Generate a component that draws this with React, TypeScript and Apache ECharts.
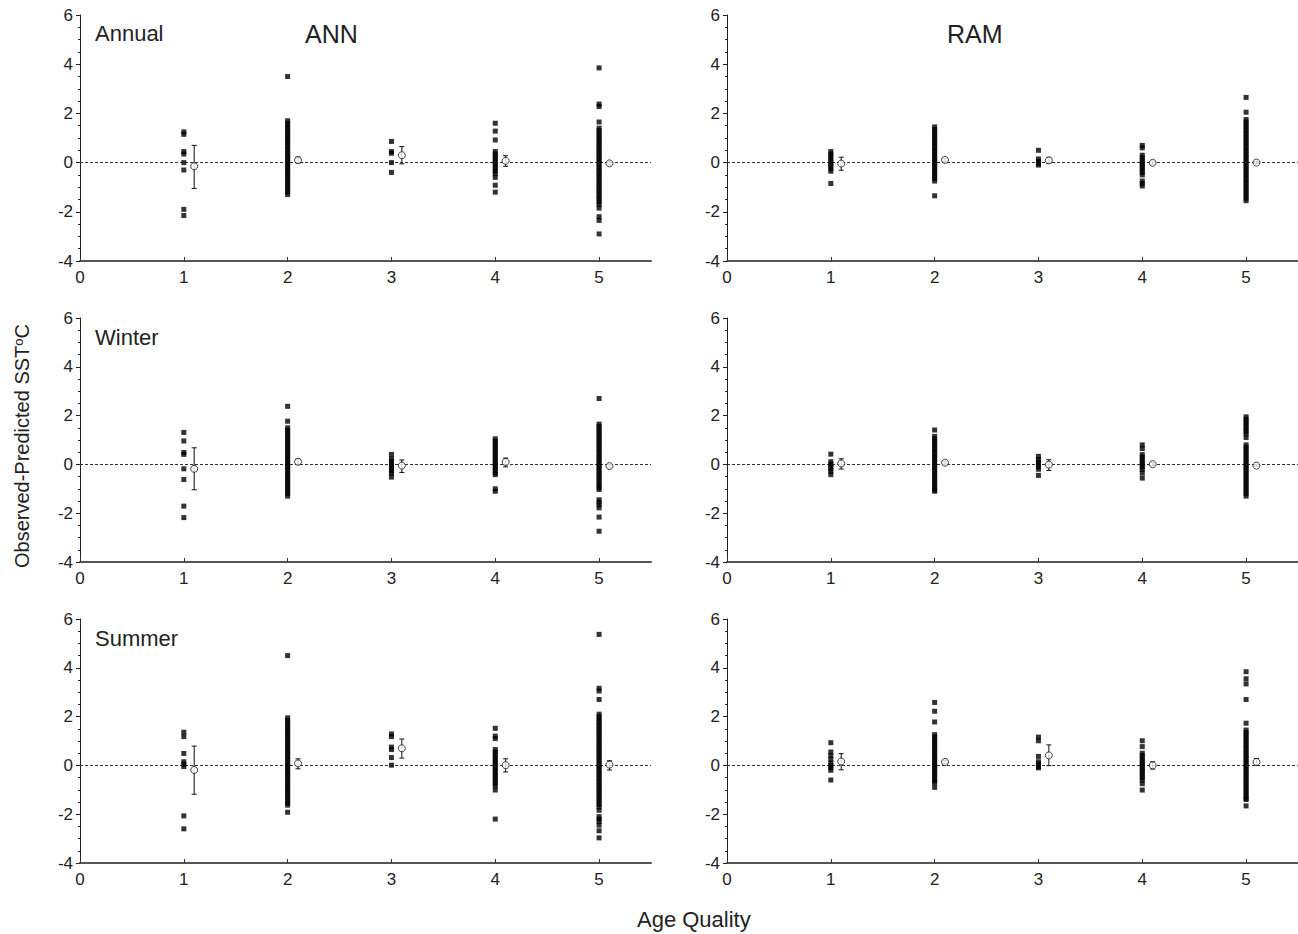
import React, { useEffect, useRef } from "react";
import * as echarts from "echarts";

// ---------- DATA ----------
const quality = [1, 2, 3, 4, 5];
const xTicks = [0, 1, 2, 3, 4, 5];
const yTicks = [-4, -2, 0, 2, 4, 6];

// Annual - ANN
const annualAnnPts = [
  [1.25, 1.15, 0.45, 0.35, 0.0, -0.3, -1.9, -2.15],
  [3.5, 1.7, 1.6, 1.5, 1.4, 1.3, 1.2, 1.1, 1.0, 0.9, 0.8, 0.7, 0.6, 0.5, 0.4, 0.3, 0.2, 0.1, 0.0, -0.1, -0.2, -0.3, -0.4, -0.5, -0.6, -0.7, -0.8, -0.9, -1.0, -1.1, -1.2, -1.3],
  [0.86, 0.45, 0.38, 0.0, -0.4],
  [1.6, 1.28, 0.92, 0.45, 0.35, 0.25, 0.15, 0.05, -0.05, -0.15, -0.25, -0.35, -0.45, -0.6, -0.92, -1.2],
  [3.85, 2.38, 2.28, 1.65, 1.4, 1.3, 1.2, 1.1, 1.0, 0.9, 0.8, 0.7, 0.6, 0.5, 0.4, 0.3, 0.2, 0.1, 0.0, -0.1, -0.2, -0.3, -0.4, -0.5, -0.6, -0.7, -0.8, -0.9, -1.0, -1.1, -1.2, -1.3, -1.4, -1.5, -1.6, -1.7, -1.85, -2.2, -2.35, -2.9],
];
const annualAnnMean = [-0.15, 0.1, 0.3, 0.07, -0.03];
const annualAnnLo = [-1.05, -0.02, -0.05, -0.15, -0.11];
const annualAnnHi = [0.7, 0.22, 0.65, 0.28, 0.05];

// Annual - RAM
const annualRamPts = [
  [0.45, 0.35, 0.25, 0.15, 0.05, -0.05, -0.15, -0.25, -0.35, -0.85],
  [1.45, 1.35, 1.25, 1.15, 1.05, 0.95, 0.85, 0.75, 0.65, 0.55, 0.45, 0.35, 0.25, 0.15, 0.05, -0.05, -0.15, -0.25, -0.35, -0.45, -0.55, -0.65, -0.75, -1.35],
  [0.5, 0.15, 0.05, -0.05, -0.1],
  [0.7, 0.6, 0.3, 0.2, 0.1, 0.0, -0.1, -0.2, -0.3, -0.4, -0.5, -0.75, -0.85, -0.95],
  [2.65, 2.05, 1.75, 1.65, 1.55, 1.45, 1.35, 1.25, 1.15, 1.05, 0.95, 0.85, 0.75, 0.65, 0.55, 0.45, 0.35, 0.25, 0.15, 0.05, -0.05, -0.15, -0.25, -0.35, -0.45, -0.55, -0.65, -0.75, -0.85, -0.95, -1.05, -1.15, -1.25, -1.35, -1.45, -1.55],
];
const annualRamMean = [-0.04, 0.11, 0.09, -0.01, 0.0];
const annualRamLo = [-0.31, 0.05, -0.03, -0.08, -0.04];
const annualRamHi = [0.22, 0.17, 0.21, 0.06, 0.04];

// Winter - ANN
const winterAnnPts = [
  [1.31, 0.96, 0.49, 0.41, -0.18, -0.62, -1.71, -2.18],
  [2.38, 1.77, 1.5, 1.4, 1.3, 1.2, 1.1, 1.0, 0.9, 0.8, 0.7, 0.6, 0.5, 0.4, 0.3, 0.2, 0.1, 0.0, -0.1, -0.2, -0.3, -0.4, -0.5, -0.6, -0.7, -0.8, -0.9, -1.0, -1.1, -1.2, -1.3],
  [0.41, 0.23, 0.13, 0.03, -0.07, -0.17, -0.27, -0.37, -0.52],
  [1.05, 0.95, 0.85, 0.75, 0.65, 0.55, 0.45, 0.35, 0.25, 0.15, 0.05, -0.05, -0.15, -0.25, -0.35, -0.42, -1.0, -1.1],
  [2.7, 1.65, 1.55, 1.45, 1.35, 1.25, 1.15, 1.05, 0.95, 0.85, 0.75, 0.65, 0.55, 0.45, 0.35, 0.25, 0.15, 0.05, -0.05, -0.15, -0.25, -0.35, -0.45, -0.55, -0.65, -0.75, -0.85, -0.95, -1.03, -1.45, -1.55, -1.65, -1.78, -2.16, -2.74],
];
const winterAnnMean = [-0.18, 0.11, -0.05, 0.1, -0.07];
const winterAnnLo = [-1.04, 0.0, -0.33, -0.1, -0.15];
const winterAnnHi = [0.68, 0.22, 0.18, 0.26, 0.01];

// Winter - RAM
const winterRamPts = [
  [0.42, 0.11, 0.01, -0.09, -0.19, -0.29, -0.42],
  [1.41, 1.15, 1.05, 0.95, 0.85, 0.75, 0.65, 0.55, 0.45, 0.35, 0.25, 0.15, 0.05, -0.05, -0.15, -0.25, -0.35, -0.45, -0.55, -0.65, -0.75, -0.85, -0.95, -1.05, -1.1],
  [0.33, 0.2, 0.1, 0.0, -0.1, -0.2, -0.45],
  [0.8, 0.65, 0.4, 0.3, 0.2, 0.1, 0.0, -0.1, -0.2, -0.35, -0.56],
  [1.95, 1.85, 1.75, 1.65, 1.55, 1.45, 1.35, 1.25, 1.1, 0.8, 0.7, 0.6, 0.5, 0.4, 0.3, 0.2, 0.1, 0.0, -0.1, -0.2, -0.3, -0.4, -0.5, -0.6, -0.7, -0.8, -0.9, -1.0, -1.1, -1.2, -1.3],
];
const winterRamMean = [0.04, 0.07, -0.01, 0.01, -0.05];
const winterRamLo = [-0.19, 0.01, -0.25, -0.05, -0.09];
const winterRamHi = [0.23, 0.13, 0.19, 0.07, -0.01];

// Summer - ANN
const summerAnnPts = [
  [1.36, 1.18, 0.49, 0.15, 0.05, -0.05, -2.07, -2.6],
  [4.5, 1.95, 1.85, 1.75, 1.65, 1.55, 1.45, 1.35, 1.25, 1.15, 1.05, 0.95, 0.85, 0.75, 0.65, 0.55, 0.45, 0.35, 0.25, 0.15, 0.05, -0.05, -0.15, -0.25, -0.35, -0.45, -0.55, -0.65, -0.75, -0.85, -0.95, -1.05, -1.15, -1.25, -1.35, -1.45, -1.55, -1.63, -1.92],
  [1.29, 1.18, 0.75, 0.65, 0.32, 0.01],
  [1.52, 1.2, 1.1, 0.65, 0.55, 0.45, 0.35, 0.25, 0.15, 0.05, -0.05, -0.15, -0.25, -0.35, -0.45, -0.55, -0.65, -0.75, -0.85, -1.01, -2.2],
  [5.37, 3.16, 3.05, 2.7, 2.1, 2.0, 1.9, 1.8, 1.7, 1.6, 1.5, 1.4, 1.3, 1.2, 1.1, 1.0, 0.9, 0.8, 0.7, 0.6, 0.5, 0.4, 0.3, 0.2, 0.1, 0.0, -0.1, -0.2, -0.3, -0.4, -0.5, -0.6, -0.7, -0.8, -0.9, -1.0, -1.1, -1.2, -1.3, -1.4, -1.5, -1.6, -1.7, -1.84, -2.1, -2.2, -2.3, -2.45, -2.68, -2.97],
];
const summerAnnMean = [-0.19, 0.08, 0.7, 0.01, 0.03];
const summerAnnLo = [-1.18, -0.14, 0.3, -0.27, -0.19];
const summerAnnHi = [0.79, 0.27, 1.08, 0.27, 0.19];

// Summer - RAM
const summerRamPts = [
  [0.93, 0.55, 0.4, 0.25, 0.1, 0.0, -0.1, -0.2, -0.6],
  [2.58, 2.22, 1.78, 1.26, 1.16, 1.06, 0.96, 0.86, 0.76, 0.66, 0.56, 0.46, 0.36, 0.26, 0.16, 0.06, -0.04, -0.14, -0.24, -0.34, -0.44, -0.54, -0.64, -0.71, -0.9],
  [1.16, 1.01, 0.37, 0.15, 0.05, -0.05, -0.1],
  [1.01, 0.77, 0.5, 0.4, 0.3, 0.2, 0.1, 0.0, -0.1, -0.2, -0.3, -0.4, -0.5, -0.6, -0.75, -1.01],
  [3.84, 3.55, 3.34, 2.7, 1.73, 1.45, 1.35, 1.25, 1.15, 1.05, 0.95, 0.85, 0.75, 0.65, 0.55, 0.45, 0.35, 0.25, 0.15, 0.05, -0.05, -0.15, -0.25, -0.35, -0.45, -0.55, -0.65, -0.75, -0.85, -0.95, -1.05, -1.15, -1.25, -1.35, -1.4, -1.66],
];
const summerRamMean = [0.16, 0.14, 0.41, 0.0, 0.14];
const summerRamLo = [-0.18, 0.07, -0.01, -0.15, 0.0];
const summerRamHi = [0.48, 0.21, 0.84, 0.15, 0.28];

const seasonLabels = ["Annual", "Winter", "Summer"];
const methodLabels = ["ANN", "RAM"];

// ---------- LAYOUT ----------
const FONT = "'Liberation Sans', Arial, Helvetica, sans-serif";
const gridLefts = [80, 727];
const gridWidth = 571;
const gridTops = [15, 318, 619];
const gridHeights = [246, 244, 244];
const meanOffset = 0.1;

export default function App() {
  const ref = useRef<HTMLDivElement>(null);

  useEffect(() => {
    document.body.style.margin = "0";
    if (!ref.current) return;
    const chart = echarts.init(ref.current, null, { renderer: "svg" });

    const panels = [
      { pts: annualAnnPts, mean: annualAnnMean, lo: annualAnnLo, hi: annualAnnHi },
      { pts: annualRamPts, mean: annualRamMean, lo: annualRamLo, hi: annualRamHi },
      { pts: winterAnnPts, mean: winterAnnMean, lo: winterAnnLo, hi: winterAnnHi },
      { pts: winterRamPts, mean: winterRamMean, lo: winterRamLo, hi: winterRamHi },
      { pts: summerAnnPts, mean: summerAnnMean, lo: summerAnnLo, hi: summerAnnHi },
      { pts: summerRamPts, mean: summerRamMean, lo: summerRamLo, hi: summerRamHi },
    ];

    const grids: any[] = [];
    const xAxes: any[] = [];
    const yAxes: any[] = [];
    const series: any[] = [];

    panels.forEach((p, i) => {
      const row = Math.floor(i / 2);
      const col = i % 2;
      grids.push({
        left: gridLefts[col],
        top: gridTops[row],
        width: gridWidth,
        height: gridHeights[row],
        containLabel: false,
        outerBoundsMode: "none",
      });
      xAxes.push({
        type: "value",
        gridIndex: i,
        min: 0,
        max: 5.5,
        interval: 1,
        axisLine: { show: true, onZero: false, lineStyle: { color: "#555", width: 2 } },
        axisTick: { show: true, inside: true, length: 4, customValues: xTicks, lineStyle: { color: "#333", width: 1 } },
        axisLabel: {
          show: true,
          customValues: xTicks,
          margin: 8,
          fontSize: 17,
          color: "#222",
          fontFamily: FONT,
          formatter: (v: number) => (Number.isInteger(v) ? String(v) : ""),
        },
        splitLine: { show: false },
      });
      yAxes.push({
        type: "value",
        gridIndex: i,
        min: -4,
        max: 6,
        interval: 2,
        axisLine: { show: true, onZero: false, lineStyle: { color: "#222", width: 1 } },
        axisTick: { show: true, inside: false, length: 4, lineStyle: { color: "#222", width: 1 } },
        minorTick: { show: true, splitNumber: 4, length: 2, lineStyle: { color: "#222", width: 1 } },
        axisLabel: {
          show: true,
          customValues: yTicks,
          margin: 7,
          fontSize: 17,
          color: "#222",
          fontFamily: FONT,
        },
        splitLine: { show: false },
      });

      const squares: number[][] = [];
      p.pts.forEach((vals, k) => {
        vals.forEach((v) => squares.push([quality[k], v]));
      });

      series.push({
        type: "scatter",
        xAxisIndex: i,
        yAxisIndex: i,
        symbol: "rect",
        symbolSize: 5,
        itemStyle: { color: "#000" },
        data: squares,
        z: 3,
        markLine: {
          silent: true,
          symbol: "none",
          label: { show: false },
          lineStyle: { color: "#333", type: [3, 2], width: 1.2 },
          data: [{ yAxis: 0 }],
          z: 2,
        },
      });

      series.push({
        type: "custom",
        xAxisIndex: i,
        yAxisIndex: i,
        z: 4,
        encode: { x: 0, y: [1, 2] },
        data: quality.map((q, k) => [q + meanOffset, p.lo[k], p.hi[k]]),
        renderItem: (params: any, api: any) => {
          const x = api.value(0);
          const pLo = api.coord([x, api.value(1)]);
          const pHi = api.coord([x, api.value(2)]);
          const c = 2.5;
          const st = { stroke: "#111", lineWidth: 1 };
          return {
            type: "group",
            children: [
              { type: "line", shape: { x1: pLo[0], y1: pLo[1], x2: pHi[0], y2: pHi[1] }, style: st },
              { type: "line", shape: { x1: pLo[0] - c, y1: pLo[1], x2: pLo[0] + c, y2: pLo[1] }, style: st },
              { type: "line", shape: { x1: pHi[0] - c, y1: pHi[1], x2: pHi[0] + c, y2: pHi[1] }, style: st },
            ],
          };
        },
      });

      series.push({
        type: "scatter",
        xAxisIndex: i,
        yAxisIndex: i,
        symbol: "circle",
        symbolSize: 7,
        z: 5,
        itemStyle: { color: "#fff", borderColor: "#111", borderWidth: 1 },
        data: quality.map((q, k) => [q + meanOffset, p.mean[k]]),
      });
    });

    const graphics: any[] = [
      { type: "text", left: 95, top: 22, style: { text: seasonLabels[0], font: `22px ${FONT}`, fill: "#222" } },
      { type: "text", left: 95, top: 326, style: { text: seasonLabels[1], font: `22px ${FONT}`, fill: "#222" } },
      { type: "text", left: 95, top: 627, style: { text: seasonLabels[2], font: `22px ${FONT}`, fill: "#222" } },
      { type: "text", left: 305, top: 21, style: { text: methodLabels[0], font: `25px ${FONT}`, fill: "#222" } },
      { type: "text", left: 947, top: 21, style: { text: methodLabels[1], font: `25px ${FONT}`, fill: "#222" } },
      {
        type: "text",
        x: 22,
        y: 446,
        rotation: Math.PI / 2,
        style: {
          text: "Observed-Predicted SST{sup|o}C",
          font: `20px ${FONT}`,
          fill: "#222",
          align: "center",
          verticalAlign: "middle",
          rich: {
            sup: { fontSize: 13, fontFamily: FONT, verticalAlign: "top", fill: "#222", padding: [0, 0, 7, 0] },
          },
        },
      },
      { type: "text", left: 637, top: 908, style: { text: "Age Quality", font: `22px ${FONT}`, fill: "#222" } },
    ];

    chart.setOption({
      animation: false,
      backgroundColor: "#fff",
      grid: grids,
      xAxis: xAxes,
      yAxis: yAxes,
      series,
      graphic: graphics,
    });

    return () => chart.dispose();
  }, []);

  return <div ref={ref} style={{ width: 1298, height: 934 }} />;
}
